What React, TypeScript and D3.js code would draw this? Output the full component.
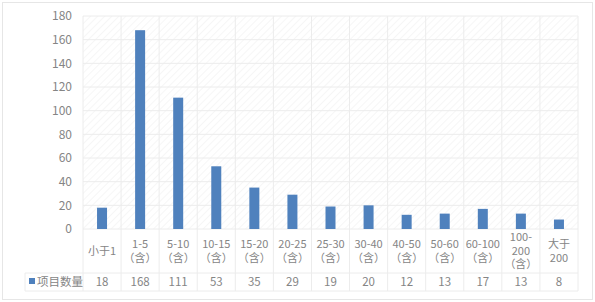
import React from "react";
import * as d3 from "d3";

const categories = ["小于1", "1-5（含）", "5-10（含）", "10-15（含）", "15-20（含）", "20-25（含）", "25-30（含）", "30-40（含）", "40-50（含）", "50-60（含）", "60-100（含）", "100-200（含）", "大于200"];
const categoryLines = [["小于1"], ["1-5", "（含）"], ["5-10", "（含）"], ["10-15", "（含）"], ["15-20", "（含）"], ["20-25", "（含）"], ["25-30", "（含）"], ["30-40", "（含）"], ["40-50", "（含）"], ["50-60", "（含）"], ["60-100", "（含）"], ["100-", "200", "（含）"], ["大于", "200"]];
const values = [18, 168, 111, 53, 35, 29, 19, 20, 12, 13, 17, 13, 8];
const seriesName = "项目数量";
const yTicks = [0, 20, 40, 60, 80, 100, 120, 140, 160, 180];

const W = 595, H = 302;
const left = 83, right = 578, top = 16, bottom = 229;
const labelBottom = 273, tableBottom = 291, tableLeft = 25;
const font = "'Noto Sans CJK SC', 'Microsoft YaHei', sans-serif";
const textColor = "#858585";
const gridColor = "#ececec";

export default function App() {
  const x = d3.scaleBand<string>().domain(categories).range([left, right]).paddingInner(0).paddingOuter(0);
  const y = d3.scaleLinear().domain([0, 180]).range([bottom, top]);
  const bw = 10;
  return (
    <svg width={W} height={H} style={{ position: "absolute", left: 0, top: 0, display: "block" }}>
      <defs>
        <pattern id="hatch" patternUnits="userSpaceOnUse" width="5" height="5" patternTransform="rotate(45)">
          <rect width="5" height="5" fill="#ffffff" />
          <line x1="0" y1="0" x2="0" y2="5" stroke="#f3f3f3" strokeWidth="1.5" />
        </pattern>
      </defs>
      <rect x={0} y={0} width={W} height={H} fill="#fff" />
      <rect x={2.5} y={2.5} width={W - 5} height={H - 5} fill="#fff" stroke="#e6e6e6" />
      <rect x={left} y={top} width={right - left} height={bottom - top} fill="url(#hatch)" />
      {yTicks.map((t) => (
        <g key={t}>
          <line x1={left} x2={right} y1={y(t)} y2={y(t)} stroke={gridColor} />
          <text x={72} y={y(t)} dy="0.35em" textAnchor="end" fontSize={12} fontFamily={font} fill={textColor}>{t}</text>
        </g>
      ))}
      {categories.map((c, i) => (
        <line key={"v" + i} x1={x(c)!} x2={x(c)!} y1={top} y2={tableBottom} stroke={gridColor} />
      ))}
      <line x1={right} x2={right} y1={top} y2={tableBottom} stroke={gridColor} />
      <line x1={tableLeft} x2={tableLeft} y1={labelBottom} y2={tableBottom} stroke={gridColor} />
      <line x1={tableLeft} x2={right} y1={labelBottom} y2={labelBottom} stroke={gridColor} />
      <line x1={tableLeft} x2={right} y1={tableBottom} y2={tableBottom} stroke={gridColor} />
      {categories.map((c, i) => (
        <rect key={"b" + i} x={x(c)! + x.bandwidth() / 2 - bw / 2} y={y(values[i])} width={bw} height={y(0) - y(values[i])} fill="#4f81bd" />
      ))}
      {categories.map((c, i) => {
        const lines = categoryLines[i];
        const lh = 13.5;
        const cy = 251;
        const start = cy - ((lines.length - 1) * lh) / 2;
        return (
          <g key={"l" + i}>
            {lines.map((ln, j) => (
              <text key={j} x={x(c)! + x.bandwidth() / 2} y={start + j * lh} dy="0.35em" textAnchor="middle" fontSize={11} fontFamily={font} fill={textColor}>{ln}</text>
            ))}
          </g>
        );
      })}
      {categories.map((c, i) => (
        <text key={"v" + i} x={x(c)! + x.bandwidth() / 2} y={(labelBottom + tableBottom) / 2} dy="0.35em" textAnchor="middle" fontSize={11.5} fontFamily={font} fill={textColor}>{values[i]}</text>
      ))}
      <rect x={29} y={278} width={6} height={6} fill="#4f81bd" />
      <text x={37} y={(labelBottom + tableBottom) / 2} dy="0.35em" fontSize={11.5} fontFamily={font} fill={textColor}>{seriesName}</text>
    </svg>
  );
}
